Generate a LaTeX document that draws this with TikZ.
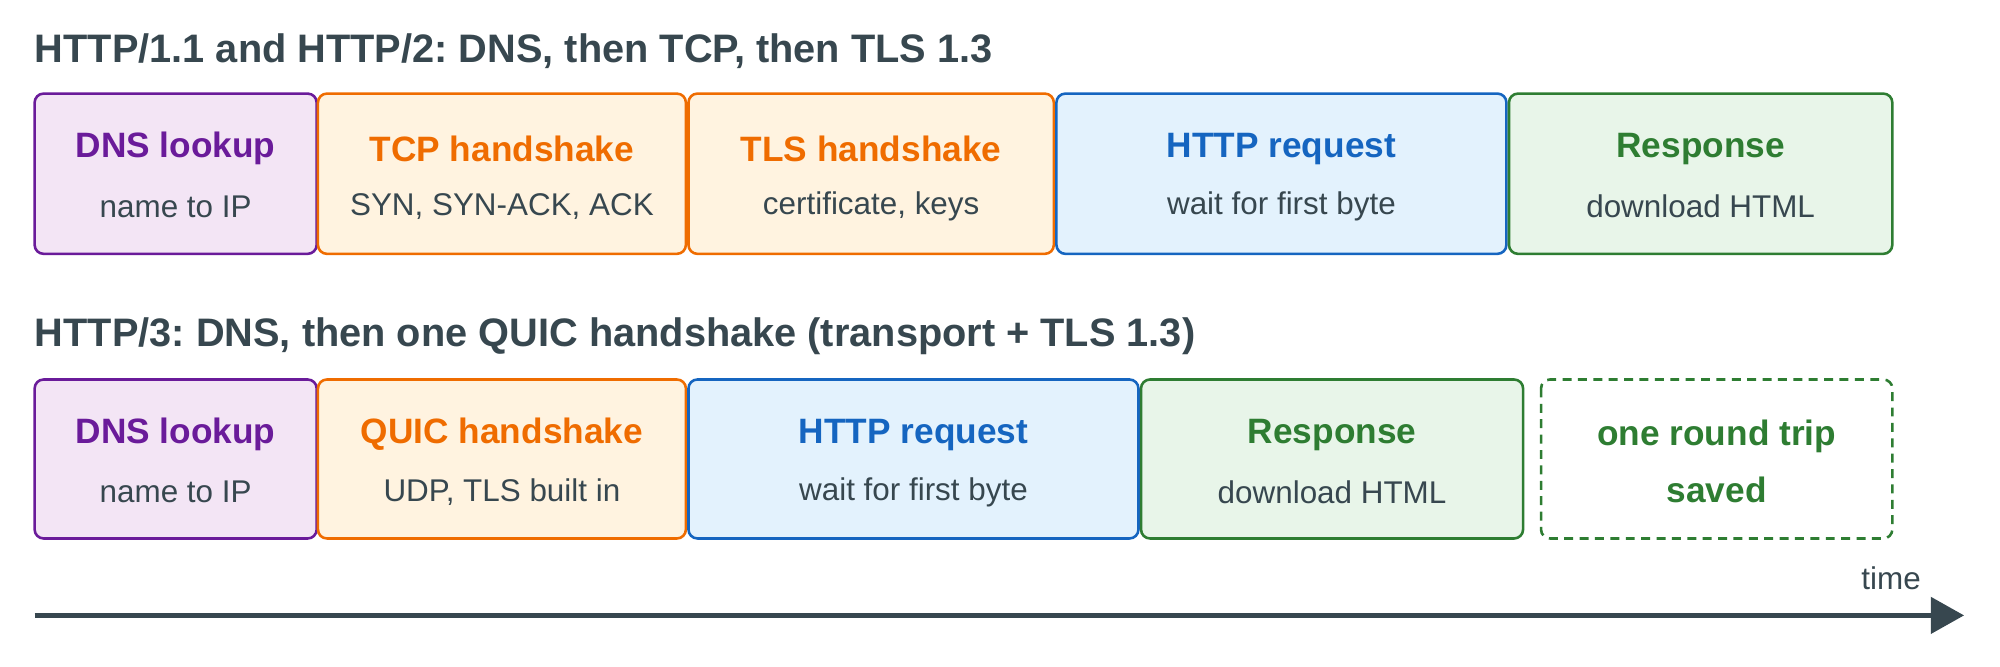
\documentclass[tikz,border=0pt]{standalone}
\usepackage{fontspec}
\setmainfont{Liberation Sans}
\usetikzlibrary{arrows.meta}
\definecolor{ink}{HTML}{37474F}
\definecolor{pu}{HTML}{6A1B9A}\definecolor{puf}{HTML}{F3E5F5}
\definecolor{or}{HTML}{EF6C00}\definecolor{orf}{HTML}{FFF3E0}
\definecolor{bl}{HTML}{1565C0}\definecolor{blf}{HTML}{E3F2FD}
\definecolor{gr}{HTML}{2E7D32}\definecolor{grf}{HTML}{E8F5E9}
\frenchspacing
\begin{document}
\begin{tikzpicture}[x=1pt,y=-1pt,
  box/.style={draw=#1,fill=#1f,line width=2pt,rounded corners=7pt},
  ttl/.style={font=\fontsize{31}{36}\selectfont\bfseries,text=ink,anchor=west,inner sep=0pt},
  bt/.style={font=\fontsize{27.5}{32}\selectfont\bfseries,text=#1},
  st/.style={font=\fontsize{24.5}{29}\selectfont,text=ink}]
\useasboundingbox (0,0) rectangle (1560,520);
\node[ttl] (t1) at (27,40) {HTTP/1.1 and HTTP/2: DNS, then TCP, then TLS 1.3};
\node[ttl] (t2) at (27,262) {HTTP/3: DNS, then one QUIC handshake (transport + TLS 1.3)};
\newcommand\stage[8]{%
 \draw[box=#5] (#1,#3) rectangle (#2,#4);
 \node[bt=#5] (#8a) at ({(#1+#2)/2},{#3+43}) {#6};
 \node[st] (#8b) at ({(#1+#2)/2},{#3+88}) {#7};}
\stage{27}{247}{73}{198}{pu}{DNS lookup}{name to IP}{a1}
\stage{248}{535}{73}{198}{or}{TCP handshake}{SYN, SYN-ACK, ACK}{a2}
\stage{537}{822}{73}{198}{or}{TLS handshake}{certificate, keys}{a3}
\stage{824}{1175}{73}{198}{bl}{HTTP request}{wait for first byte}{a4}
\stage{1177}{1476}{73}{198}{gr}{Response}{download HTML}{a5}
\stage{27}{247}{296}{420}{pu}{DNS lookup}{name to IP}{b1}
\stage{248}{535}{296}{420}{or}{QUIC handshake}{UDP, TLS built in}{b2}
\stage{537}{888}{296}{420}{bl}{HTTP request}{wait for first byte}{b3}
\stage{890}{1188}{296}{420}{gr}{Response}{download HTML}{b4}
\draw[draw=gr,line width=2pt,dash pattern=on 7pt off 5pt,rounded corners=7pt] (1202,296) rectangle (1476,420);
\node[bt=gr,align=center,font=\fontsize{27.5}{45}\selectfont\bfseries] (sv) at (1339,360) {one round trip\\saved};
\coordinate (s) at (27,480); \coordinate (e) at (1532,480);
\draw[ink,line width=4pt,-{Triangle[length=26pt,width=28pt]}] (s) -- (e);
\node[font=\fontsize{24.5}{29}\selectfont,text=ink] (tm) at (1475,451) {time};
\end{tikzpicture}
\end{document}
